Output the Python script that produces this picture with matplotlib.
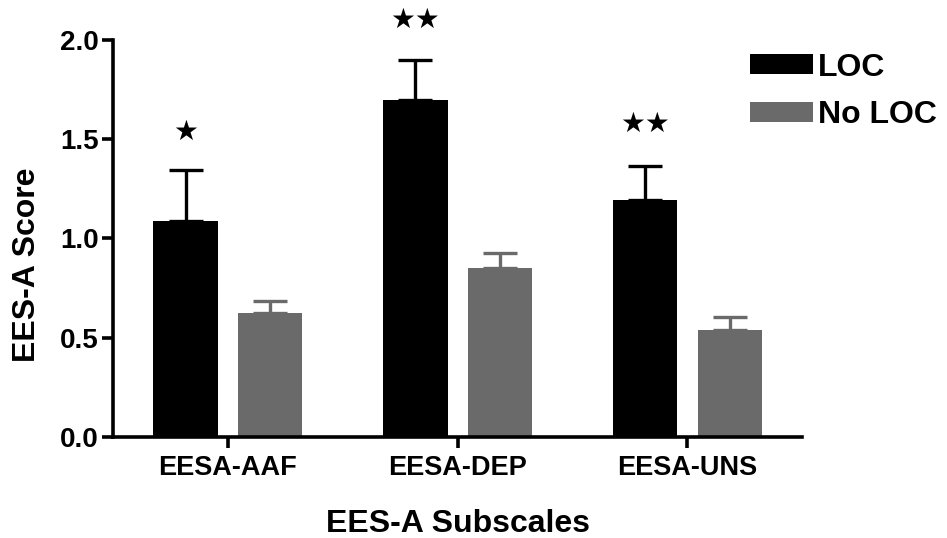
import numpy as np
import matplotlib
matplotlib.use("Agg")
import matplotlib.pyplot as plt

# values
subscales = ["EESA-AAF", "EESA-DEP", "EESA-UNS"]
loc_mean = [1.09, 1.70, 1.195]
loc_sem = [0.255, 0.20, 0.17]
noloc_mean = [0.625, 0.85, 0.54]
noloc_sem = [0.06, 0.075, 0.065]
stars = ["★", "★★", "★★"]
star_y = [1.536, 2.10, 1.577]

plt.rcParams['font.family'] = ['Liberation Sans', 'DejaVu Sans']
plt.rcParams['font.weight'] = 'bold'

black = "#000000"
grey = "#6a6a6a"

fig = plt.figure(figsize=(9.47, 5.38), dpi=100)
ax = fig.add_axes([0.1193, 0.1877, 0.728, 0.738])

x = np.arange(len(subscales))
w = 0.28
off = 0.184

ax.bar(x - off, loc_mean, w, color=black, label="LOC",
       yerr=[np.zeros(3), loc_sem], capsize=12,
       error_kw=dict(ecolor=black, elinewidth=2.4, capthick=2.4))
ax.bar(x + off, noloc_mean, w, color=grey, label="No LOC",
       yerr=[np.zeros(3), noloc_sem], capsize=12,
       error_kw=dict(ecolor=grey, elinewidth=2.4, capthick=2.4))

# significance marks
for xi, s, yy in zip(x, stars, star_y):
    ax.text(xi - off, yy, s, ha="center", va="center", fontsize=20,
            family="DejaVu Sans", clip_on=False)

ax.set_xlim(-0.5, 2.5)
ax.set_ylim(0, 2.0)
ax.set_yticks([0.0, 0.5, 1.0, 1.5, 2.0])
ax.set_yticklabels(["0.0", "0.5", "1.0", "1.5", "2.0"])
ax.set_xticks(x)
ax.set_xticklabels(subscales)

for sp in ["top", "right"]:
    ax.spines[sp].set_visible(False)
for sp in ["left", "bottom"]:
    ax.spines[sp].set_linewidth(2.6)

ax.tick_params(axis="both", width=2.6, length=8)
ax.tick_params(axis="x", labelsize=19.5, pad=5)
ax.tick_params(axis="y", labelsize=20, pad=2)

ax.set_ylabel("EES-A Score", fontsize=23, fontweight="bold")
ax.yaxis.set_label_coords(-0.103, 0.433)
ax.set_xlabel("EES-A Subscales", fontsize=23, fontweight="bold", labelpad=20)

fig.legend(loc="upper left", bbox_to_anchor=(0.778, 0.926), frameon=False,
           fontsize=23, handlelength=2.0, handleheight=0.6,
           handletextpad=0.15, labelspacing=0.55, borderaxespad=0)

fig.savefig("out.png", dpi=100)
